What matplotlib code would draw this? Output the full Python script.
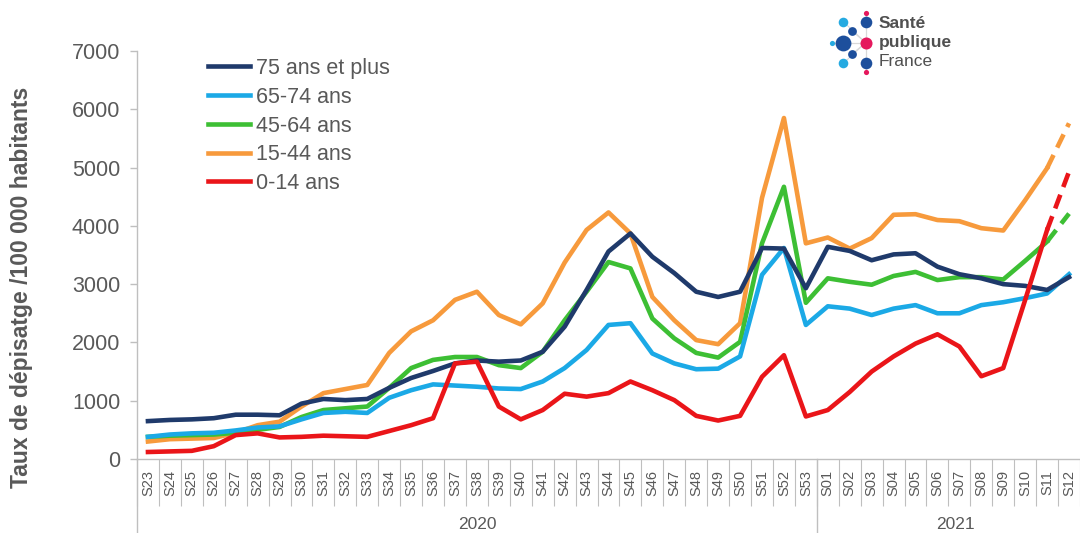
import matplotlib
matplotlib.use("Agg")
import matplotlib.pyplot as plt
from matplotlib.lines import Line2D

plt.rcParams["font.family"] = ["Liberation Sans", "DejaVu Sans"]

weeks = ([f"S{w}" for w in range(23, 54)] + [f"S{w:02d}" for w in range(1, 13)])
years = ["2020", "2021"]
n_2020 = 31

age_75 = [650, 670, 680, 700, 760, 760, 750, 950, 1030, 1010, 1030, 1220, 1390, 1510,
          1640, 1690, 1670, 1690, 1840, 2270, 2900, 3560, 3870, 3470, 3190, 2870, 2780,
          2870, 3620, 3610, 2930, 3640, 3570, 3410, 3510, 3530, 3300, 3170, 3100, 3000,
          2970, 2900, 3120]
age_65 = [380, 420, 440, 450, 490, 540, 560, 680, 790, 810, 790, 1050, 1180, 1280,
          1260, 1240, 1210, 1200, 1330, 1560, 1870, 2300, 2330, 1810, 1640, 1540, 1550,
          1760, 3160, 3620, 2300, 2620, 2580, 2470, 2580, 2640, 2500, 2500, 2640, 2690,
          2760, 2840, 3170]
age_45 = [380, 400, 410, 420, 450, 500, 550, 720, 840, 870, 900, 1220, 1560, 1700,
          1750, 1750, 1610, 1560, 1840, 2380, 2870, 3380, 3270, 2410, 2070, 1820, 1740,
          2010, 3700, 4670, 2680, 3100, 3040, 2990, 3140, 3210, 3070, 3120, 3120, 3080,
          3400, 3730, 4210]
age_15 = [300, 340, 350, 360, 450, 580, 640, 900, 1130, 1200, 1270, 1820, 2190, 2380,
          2730, 2870, 2470, 2310, 2670, 3370, 3930, 4230, 3870, 2780, 2380, 2040, 1970,
          2330, 4480, 5850, 3700, 3800, 3610, 3790, 4190, 4200, 4100, 4080, 3960, 3920,
          4440, 4990, 5760]
age_0 = [120, 130, 140, 220, 410, 440, 370, 380, 400, 390, 380, 480, 580, 700,
         1640, 1670, 900, 680, 840, 1120, 1070, 1130, 1330, 1180, 1010, 740, 660,
         740, 1410, 1780, 730, 840, 1150, 1500, 1760, 1980, 2140, 1930, 1420, 1560,
         2730, 3930, 4930]

# (label, values, colour, last week provisional -> dashed)
series = [
    ("75 ans et plus", age_75, "#1f3a6b", False),
    ("65-74 ans", age_65, "#1ba9e6", False),
    ("45-64 ans", age_45, "#3dbf34", True),
    ("15-44 ans", age_15, "#f79a3c", True),
    ("0-14 ans", age_0, "#ea1519", True),
]
draw_order = [3, 2, 1, 0, 4]

grey = "#595959"
light = "#bfbfbf"
W, H = 1080, 533

fig = plt.figure(figsize=(W / 100, H / 100), dpi=100)
ax = fig.add_axes([137 / W, 74 / H, 943 / W, 408 / H])

x = list(range(len(weeks)))
lw = 3.3
for k in draw_order:
    name, vals, col, dashed = series[k]
    if dashed:
        ax.plot(x[:-1], vals[:-1], color=col, lw=lw)
        ax.plot(x[-2:], vals[-2:], color=col, lw=lw, ls=(0, (3.2, 1.8)))
    else:
        ax.plot(x, vals, color=col, lw=lw)

ax.set_xlim(-0.5, 42.13)
ax.set_ylim(0, 7000)
ax.set_yticks(range(0, 7001, 1000))
ax.tick_params(axis="y", labelsize=15.5, colors=grey, length=5, width=1,
               pad=7, color=light)
ax.set_xticks(x)
ax.set_xticklabels(weeks, rotation=90, fontsize=10.5, color=grey)
ax.set_xticks([i - 0.5 for i in range(len(weeks) + 1)], minor=True)
ax.tick_params(axis="x", which="major", length=0, pad=8)
ax.tick_params(axis="x", which="minor", length=34, width=0.8, color=light)

for s in ["top", "right"]:
    ax.spines[s].set_visible(False)
for s in ["left", "bottom"]:
    ax.spines[s].set_color(light)
    ax.spines[s].set_linewidth(1)

# year level of the category axis
xt = ax.get_xaxis_transform()
for xb in [-0.5, n_2020 - 0.5]:
    ax.plot([xb, xb], [0, -0.19], transform=xt, color=light, lw=1, clip_on=False)
ax.text((n_2020 - 1) / 2, -0.16, years[0], transform=xt, ha="center", va="center",
        fontsize=12.5, color=grey)
ax.text(n_2020 + (len(weeks) - n_2020 - 1) / 2 + 0.3, -0.16, years[1], transform=xt,
        ha="center", va="center", fontsize=12.5, color=grey)

ax.set_ylabel("Taux de dépisatge /100 000 habitants", fontsize=16.5, fontweight="bold",
              color=grey)
ax.yaxis.set_label_coords(-104 / 943, (459 - 287) / 408)

handles = [Line2D([0], [0], color=c, lw=lw) for _, _, c, _ in series]
ax.legend(handles, [n for n, _, _, _ in series], loc="upper left",
          bbox_to_anchor=(208 / W, 1 - 58 / H), bbox_transform=fig.transFigure,
          frameon=False, fontsize=15.5, handlelength=1.95, handletextpad=0.3,
          labelspacing=0.36, borderpad=0, borderaxespad=0, labelcolor=grey)

# Santé publique France logo
lg = fig.add_axes([0, 0, 1, 1], zorder=5)
lg.set_xlim(0, W)
lg.set_ylim(H, 0)
lg.axis("off")
cx, cy = 865.7, 42.7
dots = [  # x, y, colour, size
    (865.7, 12.7, "#e5185d", 14), (865.7, 22.3, "#1d4f9c", 70), (843.3, 21.7, "#25aae1", 48),
    (851.7, 30.7, "#1d4f9c", 40), (832.3, 42.7, "#25aae1", 14), (842.7, 42.7, "#1d4f9c", 130),
    (865.7, 42.7, "#e5185d", 75), (851.7, 54.3, "#1d4f9c", 40), (843.3, 63.3, "#25aae1", 48),
    (865.7, 62.7, "#1d4f9c", 70), (865.7, 72.0, "#e5185d", 14),
]
for dx, dy, c, s in dots:
    lg.plot([cx, dx], [cy, dy], color="#d9d9d9", lw=0.8, zorder=1)
for dx, dy, c, s in dots:
    lg.scatter(dx, dy, s=s, color=c, zorder=2, linewidths=0)
lg.text(879, 23, "Santé", fontsize=12.5, fontweight="bold", color="#505050", va="center")
lg.text(879, 42, "publique", fontsize=12.5, fontweight="bold", color="#505050", va="center")
lg.text(879, 62, "France", fontsize=12.5, color="#505050", va="center")

fig.savefig("out.png", dpi=100)
